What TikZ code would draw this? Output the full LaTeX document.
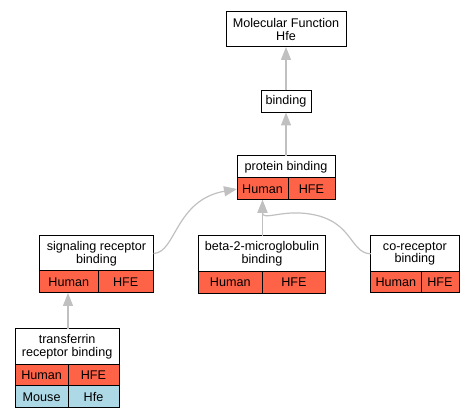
\documentclass[tikz,border=0pt]{standalone}
\usepackage{fontspec}
\setmainfont{Liberation Sans}
\usetikzlibrary{arrows.meta}
\definecolor{hred}{HTML}{FF6347}
\definecolor{mblue}{HTML}{ADD8E6}
\definecolor{edgegray}{HTML}{C0C0C0}
\begin{document}
\begin{tikzpicture}[x=1pt,y=-1pt,
  cell/.style={draw=black, line width=1pt, inner sep=0pt, outer sep=0pt, align=center,
    font=\fontsize{12.6}{12.7}\selectfont, anchor=center},
  hdr/.style={cell, fill=white},
  hum/.style={cell, fill=hred},
  mou/.style={cell, fill=mblue},
  edge/.style={draw=edgegray, line width=1.2pt, -{Triangle[length=13pt,width=10pt]}, fill=none}
]
\useasboundingbox (0,0) rectangle (475,419);

% Molecular Function
\node[hdr, minimum width=120pt, minimum height=35pt] (mf) at (286,29.5) {Molecular Function\\Hfe};
% binding
\node[hdr, minimum width=50pt, minimum height=22pt] (bind) at (286,101.5) {binding};
% protein binding
\node[hdr, minimum width=98pt, minimum height=22pt] (pb) at (286,167) {protein binding};
\node[hum, minimum width=51pt, minimum height=22pt] (pbhum) at (262.5,189) {Human};
\node[hum, minimum width=47pt, minimum height=22pt] (pbhfe) at (311.5,189) {HFE};
% signaling receptor binding
\node[hdr, minimum width=114pt, minimum height=35pt] (sig) at (96.5,253.5) {signaling receptor\\binding};
\node[hum, minimum width=58.5pt, minimum height=22pt] (sighum) at (68.75,282) {Human};
\node[hum, minimum width=55.5pt, minimum height=22pt] (sighfe) at (125.75,282) {HFE};
% beta-2-microglobulin binding
\node[hdr, minimum width=127.4pt, minimum height=35.5pt] (beta) at (262,253.75) {beta-2-microglobulin\\binding};
\node[hum, minimum width=64pt, minimum height=21.8pt] (betahum) at (230.3,282.4) {Human};
\node[hum, minimum width=63.4pt, minimum height=21.8pt] (betahfe) at (294,282.4) {HFE};
% co-receptor binding
\node[hdr, minimum width=88.3pt, minimum height=35.7pt] (cor) at (414.85,253.85) {co-receptor\\binding};
\node[hum, minimum width=50.3pt, minimum height=21pt] (corhum) at (395.85,282.2) {Human};
\node[hum, minimum width=38pt, minimum height=21pt] (corhfe) at (440,282.2) {HFE};
% transferrin receptor binding
\node[hdr, minimum width=103.7pt, minimum height=36pt] (tr) at (67.15,347) {transferrin\\receptor binding};
\node[hum, minimum width=52.7pt, minimum height=21pt] (trhum) at (41.65,375.5) {Human};
\node[hum, minimum width=51pt, minimum height=21pt] (trhfe) at (93.5,375.5) {HFE};
\node[mou, minimum width=52.7pt, minimum height=22pt] (trmou) at (41.65,397) {Mouse};
\node[mou, minimum width=51pt, minimum height=22pt] (trhfe2) at (93.5,397) {Hfe};

% edges
\draw[edge] (bind.north) -- (mf.south);
\draw[edge] (pb.north) -- (bind.south);
\draw[edge] (trhfe.north west |- tr.north) -- (trhfe.north west |- sighum.south);
\draw[edge] (pbhum.south |- beta.north) -- (pbhum.south);
\draw[edge] (sig.east) .. controls (176,253) and (175,200) .. (pbhum.west);
\draw[edge] (cor.west) .. controls (348,253) and (354,216) .. (300,213)
  .. controls (278,212) and (262.5,220) .. (pbhum.south);
\end{tikzpicture}
\end{document}
